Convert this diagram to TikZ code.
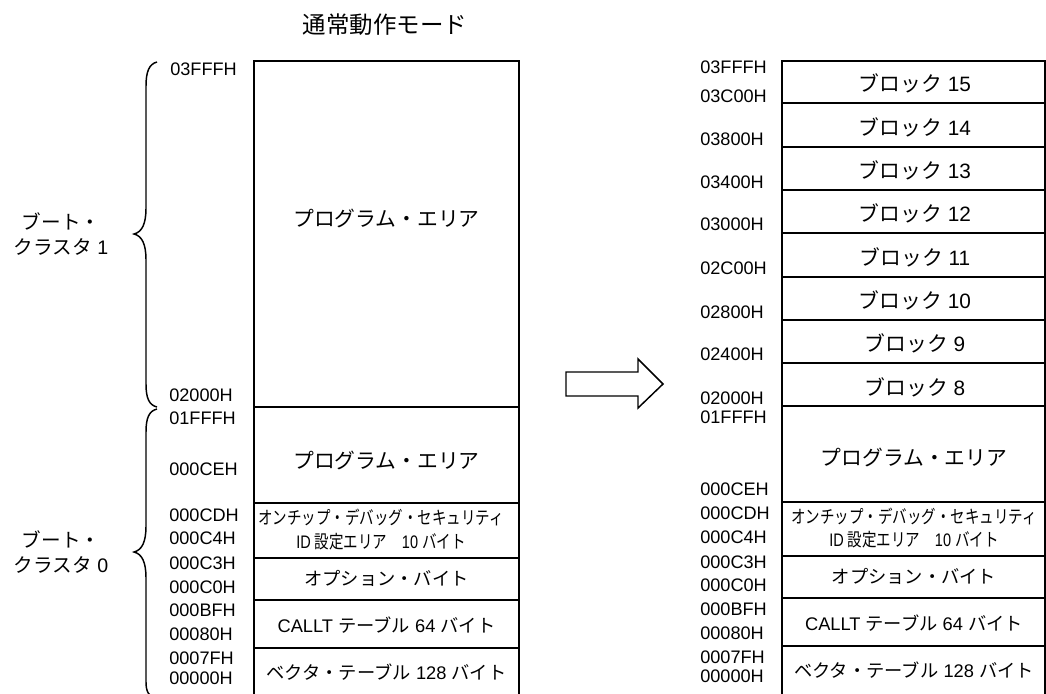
\documentclass[tikz,border=0pt]{standalone}
\usepackage{fontspec}
\usepackage{graphicx}
\setmainfont{Liberation Sans}
\newfontfamily\jpf{Noto Sans CJK JP}
\begin{document}
\begin{tikzpicture}[x=0.75pt,y=-0.75pt,
  box/.style={line width=1.5pt},
  bracepath/.style={line width=1.1pt},
  addr/.style={anchor=west,inner sep=0pt,font=\fontsize{13.6}{15}\selectfont},
  big/.style={inner sep=0pt,font=\fontsize{15.6}{18}\selectfont},
  lbl/.style={inner sep=0pt,font=\fontsize{13.7}{16}\selectfont},
  cond/.style={inner sep=0pt,font=\fontsize{13.6}{16}\selectfont},
  clus/.style={inner sep=0pt,align=center,font=\fontsize{14.7}{19}\selectfont},
  ttl/.style={inner sep=0pt,font=\fontsize{17.6}{20}\selectfont}]
\useasboundingbox (0,0) rectangle (1046,693);
\clip (0,0) rectangle (1046,693);

% title
\node[ttl] (title) at (385,25) {\jpf 通常動作モード};

% left memory map
\draw[box] (254,700) -- (254,61) -- (519,61) -- (519,700);
\foreach \yy in {407,503,558,600,648} \draw[box] (254,\yy) -- (519,\yy);

\node[big] (lpa1) at (386.5,218) {\jpf プログラム・エリア};
\node[big] (lpa2) at (386.5,460) {\jpf プログラム・エリア};
\node[cond] (locd1) at (381,517) {\scalebox{0.8}[1]{\jpf オンチップ・デバッグ・セキュリティ}};
\node[cond] (locd2) at (381,542) {\scalebox{0.8}[1]{ID {\jpf 設定エリア　}10 {\jpf バイト}}};
\node[lbl] (lopt) at (386.5,578) {\jpf オプション・バイト};
\node[lbl] (lcallt) at (386.5,625) {CALLT {\jpf テーブル} 64 {\jpf バイト}};
\node[lbl] (lvec) at (386.5,672) {{\jpf ベクタ・テーブル} 128 {\jpf バイト}};

\node[addr] (la1) at (170,69) {03FFFH};
\node[addr] (la2) at (169,395) {02000H};
\node[addr] (la3) at (169,418) {01FFFH};
\node[addr] (la4) at (169,469) {000CEH};
\node[addr] (la5) at (169,515) {000CDH};
\node[addr] (la6) at (169,538) {000C4H};
\node[addr] (la7) at (169,563) {000C3H};
\node[addr] (la8) at (169,587) {000C0H};
\node[addr] (la9) at (169,610) {000BFH};
\node[addr] (la10) at (169,634) {00080H};
\node[addr] (la11) at (169,658) {0007FH};
\node[addr] (la12) at (169,678) {00000H};

% braces
\draw[bracepath] (157,62) .. controls (149,64) and (146,72) .. (146,86) -- (146,208)
  .. controls (146,224) and (142,232) .. (134,234)
  .. controls (142,236) and (146,244) .. (146,260) -- (146,384)
  .. controls (146,398) and (149,405) .. (157,407);
\draw[bracepath] (157,409) .. controls (149,411) and (146,418) .. (146,432) -- (146,526)
  .. controls (146,542) and (142,550) .. (134,552)
  .. controls (142,554) and (146,562) .. (146,578) -- (146,682)
  .. controls (146,692) and (149,697) .. (157,699);

\node[clus] (bc1) at (61,234) {{\jpf ブート・}\\{\jpf クラスタ} 1};
\node[clus] (bc0) at (61,552) {{\jpf ブート・}\\{\jpf クラスタ} 0};

% arrow
\draw[line width=1.1pt] (566,372) -- (638,372) -- (638,359) -- (663,384) -- (638,408) -- (638,396) -- (566,396) -- cycle;

% right memory map
\draw[box] (782,700) -- (782,61) -- (1045,61) -- (1045,700);
\foreach \yy in {103,147,190,233,277,320,363,406,502,556,598,646} \draw[box] (782,\yy) -- (1045,\yy);

\node[big] (b15) at (915,83) {{\jpf ブロック} 15};
\node[big] (b14) at (915,127) {{\jpf ブロック} 14};
\node[big] (b13) at (915,170) {{\jpf ブロック} 13};
\node[big] (b12) at (915,213) {{\jpf ブロック} 12};
\node[big] (b11) at (915,257) {{\jpf ブロック} 11};
\node[big] (b10) at (915,300) {{\jpf ブロック} 10};
\node[big] (b9) at (915,343) {{\jpf ブロック} 9};
\node[big] (b8) at (915,387) {{\jpf ブロック} 8};

\node[big] (rpa) at (914,457) {\jpf プログラム・エリア};
\node[cond] (rocd1) at (914,516) {\scalebox{0.8}[1]{\jpf オンチップ・デバッグ・セキュリティ}};
\node[cond] (rocd2) at (914,540) {\scalebox{0.8}[1]{ID {\jpf 設定エリア　}10 {\jpf バイト}}};
\node[lbl] (ropt) at (914,576) {\jpf オプション・バイト};
\node[lbl] (rcallt) at (914,623) {CALLT {\jpf テーブル} 64 {\jpf バイト}};
\node[lbl] (rvec) at (914,670) {{\jpf ベクタ・テーブル} 128 {\jpf バイト}};

\node[addr] (ra1) at (700,67) {03FFFH};
\node[addr] (ra2) at (700,96) {03C00H};
\node[addr] (ra3) at (700,139) {03800H};
\node[addr] (ra4) at (700,182) {03400H};
\node[addr] (ra5) at (700,224) {03000H};
\node[addr] (ra6) at (700,268) {02C00H};
\node[addr] (ra7) at (700,312) {02800H};
\node[addr] (ra8) at (700,354) {02400H};
\node[addr] (ra9) at (700,398) {02000H};
\node[addr] (ra10) at (700,417) {01FFFH};
\node[addr] (ra11) at (700,489) {000CEH};
\node[addr] (ra12) at (700,513) {000CDH};
\node[addr] (ra13) at (700,537) {000C4H};
\node[addr] (ra14) at (700,562) {000C3H};
\node[addr] (ra15) at (700,585) {000C0H};
\node[addr] (ra16) at (700,609) {000BFH};
\node[addr] (ra17) at (700,633) {00080H};
\node[addr] (ra18) at (700,657) {0007FH};
\node[addr] (ra19) at (700,676) {00000H};
\end{tikzpicture}
\end{document}
